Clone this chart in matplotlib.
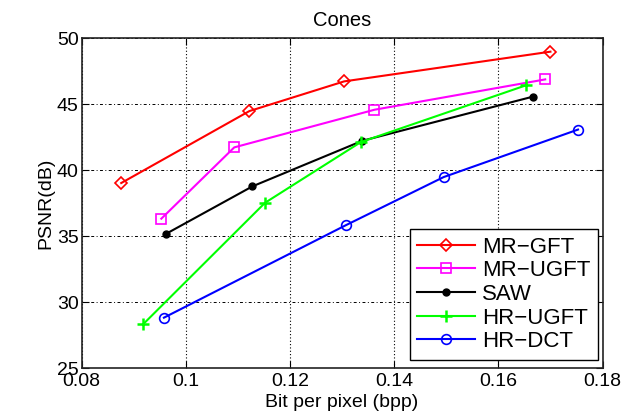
import matplotlib.pyplot as plt

plt.rcParams['font.family'] = ['Liberation Sans', 'DejaVu Sans']

# bit rate (bpp) and PSNR (dB) per method
mr_gft_x = [0.0876, 0.1122, 0.1304, 0.1700]
mr_gft_y = [39.05, 44.5, 46.75, 49.0]
mr_ugft_x = [0.0953, 0.1093, 0.1362, 0.1690]
mr_ugft_y = [36.35, 41.75, 44.6, 46.9]
saw_x = [0.0962, 0.1128, 0.1339, 0.1667]
saw_y = [35.2, 38.8, 42.25, 45.6]
hr_ugft_x = [0.0918, 0.1152, 0.1336, 0.1653]
hr_ugft_y = [28.35, 37.55, 42.15, 46.45]
hr_dct_x = [0.0958, 0.1307, 0.1495, 0.1753]
hr_dct_y = [28.85, 35.85, 39.5, 43.1]

fig = plt.figure(figsize=(6.28, 4.16), dpi=100)
ax = fig.add_axes([0.130, 0.1142, 0.8294, 0.7933])

ax.plot(mr_gft_x, mr_gft_y, color='red', marker='D', ms=6, mfc='none', mew=1.2, lw=1.5, label='MR\u2212GFT')
ax.plot(mr_ugft_x, mr_ugft_y, color='magenta', marker='s', ms=6.5, mfc='none', mew=1.2, lw=1.5, label='MR\u2212UGFT')
ax.plot(saw_x, saw_y, color='black', marker='o', ms=5, lw=1.5, label='SAW')
ax.plot(hr_ugft_x, hr_ugft_y, color='#00ff00', marker='+', ms=8, mew=1.8, lw=1.5, label='HR\u2212UGFT')
ax.plot(hr_dct_x, hr_dct_y, color='blue', marker='o', ms=7, mfc='none', mew=1.2, lw=1.5, label='HR\u2212DCT')

ax.set_xlim(0.08, 0.18)
ax.set_ylim(25, 50)
ax.set_xticks([0.08, 0.1, 0.12, 0.14, 0.16, 0.18])
ax.set_xticklabels(['0.08', '0.1', '0.12', '0.14', '0.16', '0.18'])
ax.set_yticks([25, 30, 35, 40, 45, 50])
# matlab-ish grid: dash-dot horizontal, dotted vertical
ax.xaxis.grid(True, color='black', linestyle=(0, (1, 2)), lw=0.8)
ax.yaxis.grid(True, color='black', linestyle=(0, (3, 2.5, 1, 2.5)), lw=0.7)
ax.tick_params(direction='in', labelsize=14, length=5, top=True, right=True)
ax.tick_params(axis='x', pad=3)
ax.tick_params(axis='y', pad=2)
for s in ax.spines.values():
    s.set_linewidth(1.2)
    s.set_color('#222222')

ax.set_xlabel('Bit per pixel (bpp)', fontsize=14, labelpad=3)
ax.set_ylabel('PSNR(dB)', fontsize=14, labelpad=2)
ax.set_title('Cones', fontsize=14.5, pad=9)

leg = ax.legend(loc='lower right', bbox_to_anchor=(598 / 628, 1 - 360 / 416),
                bbox_transform=fig.transFigure, borderaxespad=0,
                fontsize=16, fancybox=False, framealpha=1,
                edgecolor='black', handlelength=2.6,
                labelspacing=0.12, handletextpad=0.3, borderpad=0.35)
leg.get_frame().set_linewidth(1.0)

plt.savefig('out.png', dpi=100)
